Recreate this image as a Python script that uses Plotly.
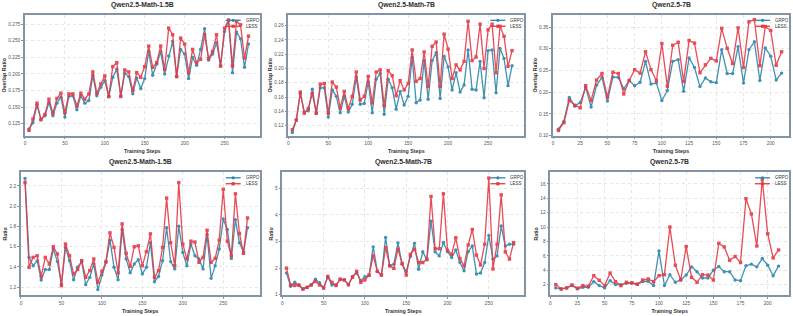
import plotly.graph_objects as go

# ---------------- data ----------------
steps_280 = list(range(5, 281, 5))
steps_210 = list(range(5, 211, 5))

# Top row: Overlap Ratio
p1_grpo = [0.117,0.1265,0.153,0.132,0.137,0.157,0.137,0.156,0.165,0.135,0.166,0.167,0.146,0.167,0.156,0.160,0.198,0.167,0.180,0.190,
           0.166,0.195,0.207,0.167,0.201,0.196,0.170,0.194,0.178,0.193,0.234,0.198,0.215,0.233,0.200,0.227,0.249,0.196,0.237,0.230,
           0.193,0.225,0.213,0.237,0.268,0.221,0.230,0.247,0.212,0.264,0.281,0.202,0.263,0.253,0.210,0.245]
p1_less = [0.115,0.132,0.156,0.131,0.139,0.162,0.141,0.163,0.171,0.142,0.170,0.170,0.152,0.171,0.162,0.170,0.203,0.171,0.185,0.197,
           0.166,0.211,0.217,0.166,0.206,0.203,0.175,0.202,0.195,0.211,0.242,0.210,0.217,0.242,0.207,0.269,0.259,0.196,0.254,0.245,
           0.202,0.237,0.217,0.222,0.259,0.223,0.234,0.259,0.212,0.269,0.281,0.212,0.279,0.274,0.224,0.257]

p2_grpo = [0.1105,0.128,0.165,0.139,0.141,0.171,0.1375,0.173,0.173,0.132,0.170,0.161,0.138,0.161,0.139,0.150,0.188,0.150,0.151,0.181,
           0.138,0.185,0.193,0.136,0.185,0.173,0.143,0.168,0.149,0.161,0.215,0.152,0.156,0.211,0.157,0.211,0.222,0.158,0.217,0.202,
           0.170,0.194,0.167,0.177,0.226,0.171,0.170,0.210,0.159,0.225,0.226,0.166,0.228,0.214,0.176,0.204]
p2_less = [0.1145,0.128,0.167,0.1375,0.144,0.165,0.1375,0.178,0.179,0.1375,0.181,0.174,0.145,0.168,0.144,0.161,0.195,0.156,0.161,0.189,
           0.152,0.195,0.198,0.148,0.197,0.190,0.162,0.183,0.170,0.179,0.226,0.182,0.186,0.223,0.175,0.231,0.237,0.175,0.248,0.227,
           0.186,0.205,0.198,0.210,0.266,0.211,0.216,0.262,0.200,0.254,0.262,0.194,0.259,0.245,0.203,0.225]

p3_grpo = [0.115,0.133,0.188,0.168,0.176,0.211,0.166,0.216,0.234,0.180,0.235,0.234,0.208,0.227,0.215,0.223,0.271,0.219,0.221,0.181,
           0.204,0.271,0.275,0.202,0.279,0.257,0.213,0.233,0.224,0.222,0.298,0.243,0.243,0.305,0.221,0.298,0.316,0.227,0.302,0.283,
           0.228,0.244]
p3_less = [0.112,0.130,0.181,0.170,0.164,0.215,0.181,0.228,0.243,0.189,0.246,0.243,0.196,0.227,0.252,0.244,0.293,0.252,0.227,0.312,
           0.214,0.308,0.315,0.225,0.319,0.313,0.245,0.263,0.278,0.272,0.347,0.301,0.266,0.348,0.257,0.362,0.367,0.261,0.351,0.342,
           0.262,0.293]

# Bottom row: Ratio
p4_grpo = [2.275,1.495,1.413,1.462,1.272,1.375,1.375,1.577,1.453,1.233,1.593,1.462,1.273,1.397,1.453,1.226,1.298,1.430,1.177,1.322,
           1.446,1.665,1.397,1.273,1.770,1.479,1.342,1.430,1.472,1.332,1.397,1.639,1.255,1.307,1.462,1.787,1.453,1.381,1.803,1.544,
           1.413,1.626,1.511,1.479,1.381,1.720,1.288,1.413,1.577,1.873,1.770,1.485,1.867,1.639,1.547,1.787]
p4_less = [2.233,1.397,1.495,1.511,1.307,1.495,1.430,1.600,1.528,1.216,1.626,1.511,1.332,1.375,1.462,1.298,1.365,1.479,1.249,1.358,
           1.453,1.737,1.593,1.342,1.825,1.535,1.407,1.600,1.609,1.413,1.551,1.727,1.298,1.365,1.593,2.080,1.639,1.413,2.233,1.626,
           1.479,1.655,1.646,1.446,1.495,1.763,1.446,1.485,1.665,2.167,1.655,1.511,2.122,1.731,1.535,1.884]

p5_grpo = [1.82,1.32,1.47,1.35,1.22,1.28,1.37,1.59,1.45,1.28,1.66,1.37,1.37,1.57,1.56,1.38,1.69,1.82,1.53,1.68,
           1.72,2.80,1.88,1.74,3.15,2.09,2.15,2.95,2.15,1.87,2.44,2.93,1.96,2.62,2.31,3.76,2.61,2.46,2.96,2.62,
           2.40,2.68,2.21,1.90,2.62,2.83,1.78,1.82,2.21,3.23,2.34,2.46,3.58,2.83,2.90,2.90]
p5_less = [2.00,1.37,1.35,1.37,1.22,1.28,1.37,1.50,1.37,1.25,1.69,1.47,1.35,1.59,1.56,1.38,1.66,1.88,1.47,1.56,
           1.74,2.46,1.88,1.74,2.77,2.09,1.99,2.71,2.18,1.74,2.52,2.71,2.21,2.21,2.34,4.69,2.73,2.73,4.79,2.67,
           2.52,3.14,2.36,2.09,2.87,3.45,2.49,2.12,2.90,5.38,1.97,2.90,4.75,2.61,2.34,2.96]

p6_grpo = [1.54,1.40,1.54,1.86,1.40,1.63,1.63,2.41,1.86,1.54,2.55,2.00,2.00,2.18,2.23,2.05,2.41,2.46,1.86,6.68,
           1.86,3.38,2.32,2.69,3.33,4.47,3.79,2.92,2.92,4.00,4.52,3.79,3.79,2.64,2.55,4.61,4.84,4.47,5.62,4.70,
           3.24,4.57]
p6_less = [2.00,1.40,1.54,1.95,1.50,1.86,1.77,3.24,2.60,1.86,3.60,2.41,1.86,2.32,2.23,2.05,2.64,2.78,2.41,3.24,
           3.38,10.0,4.70,2.64,7.28,3.01,2.32,3.38,3.33,2.64,7.73,7.23,5.39,5.90,5.07,13.93,11.82,7.37,16.6,9.06,
           5.71,6.81]

titles = ["Qwen2.5-Math-1.5B", "Qwen2.5-Math-7B", "Qwen2.5-7B",
          "Qwen2.5-Math-1.5B", "Qwen2.5-Math-7B", "Qwen2.5-7B"]
y_titles = ["Overlap Ratio"] * 3 + ["Ratio"] * 3
x_title = "Training Steps"
series_names = ["GRPO", "LESS"]

# ---------------- style / layout ----------------
W, H = 793, 316
BLUE = "#2E86AB"
RED = "#E63946"
COLORS = [BLUE, RED]
SYMBOLS = ["circle", "square"]
FRAME = "#8594a4"
FONT = "Liberation Sans"

panels = [
    dict(x=steps_280, g=p1_grpo, l=p1_less, px=(24, 259), py=(15, 137), xr=[0, 294], yr=[0.107, 0.289],
         xd=50, y0=0.125, yd=0.025, yf=".3f"),
    dict(x=steps_280, g=p2_grpo, l=p2_less, px=(287.7, 524), py=(15, 137), xr=[0, 295.4], yr=[0.106, 0.275],
         xd=50, y0=0.12, yd=0.02, yf=".2f"),
    dict(x=steps_210, g=p3_grpo, l=p3_less, px=(552.7, 789), py=(15, 137), xr=[0, 216.8], yr=[0.10, 0.378],
         xd=25, y0=0.10, yd=0.05, yf=".2f"),
    dict(x=steps_280, g=p4_grpo, l=p4_less, px=(20, 259), py=(174, 298.3), xr=[0, 295], yr=[1.119, 2.334],
         xd=50, y0=1.2, yd=0.2, yf=".1f"),
    dict(x=steps_280, g=p5_grpo, l=p5_less, px=(281.7, 524), py=(174, 298.3), xr=[0, 293], yr=[0.975, 5.595],
         xd=50, y0=1, yd=1, yf="d"),
    dict(x=steps_210, g=p6_grpo, l=p6_less, px=(550, 789), py=(174, 298.3), xr=[0, 219.6], yr=[0.49, 17.6],
         xd=25, y0=2, yd=2, yf="d"),
]

fig = go.Figure()
layout = dict(width=W, height=H, margin=dict(l=0, r=0, t=0, b=0),
              paper_bgcolor="white", plot_bgcolor="white", showlegend=False,
              font=dict(family=FONT, color="#333333"), annotations=[], shapes=[])


def px2x(v):
    return v / W


def px2y(v):
    return 1 - v / H


for i, p in enumerate(panels):
    k = "" if i == 0 else str(i + 1)
    xa, ya = "x" + k, "y" + k
    xdom = [p["px"][0] / W, p["px"][1] / W]
    ydom = [1 - p["py"][1] / H, 1 - p["py"][0] / H]
    for j, vals in enumerate([p["g"], p["l"]]):
        fig.add_trace(go.Scatter(x=p["x"], y=vals, mode="lines+markers", name=series_names[j],
                                 line=dict(color=COLORS[j], width=1.3),
                                 marker=dict(symbol=SYMBOLS[j], size=3.4, color=COLORS[j]),
                                 xaxis=xa, yaxis=ya, opacity=0.9))
    common = dict(showline=True, linecolor=FRAME, linewidth=1.5, mirror=True,
                  showgrid=True, gridcolor="#e6e6e6", griddash="dot", gridwidth=0.8,
                  zeroline=False, ticks="outside", ticklen=2, tickwidth=0.8, tickcolor=FRAME,
                  tickfont=dict(size=4.8, color="#555555", family=FONT))
    layout["xaxis" + k] = dict(domain=xdom, range=p["xr"], anchor=ya, dtick=p["xd"], tick0=0,
                               title=dict(text="<b>" + x_title + "</b>", font=dict(size=5.3, color="#333333"), standoff=4),
                               **common)
    layout["yaxis" + k] = dict(domain=ydom, range=p["yr"], anchor=xa, dtick=p["yd"], tick0=p["y0"],
                               tickformat=p["yf"],
                               title=dict(text="<b>" + y_titles[i] + "</b>", font=dict(size=5.3, color="#333333"), standoff=1.5),
                               **common)
    layout["annotations"].append(dict(text="<b>" + titles[i] + "</b>", x=(xdom[0] + xdom[1]) / 2,
                                      y=1 - (p["py"][0] - 10) / H, xref="paper", yref="paper",
                                      showarrow=False, font=dict(size=6.8, color="#2c2c2c"),
                                      xanchor="center", yanchor="middle"))
    # compact legend (matplotlib-like) in the top-right corner of each panel
    R, T = p["px"][1], p["py"][0]
    for j in range(2):
        yy = T + 5.5 + 6 * j
        layout["shapes"].append(dict(type="line", xref="paper", yref="paper",
                                     x0=px2x(R - 34), x1=px2x(R - 19), y0=px2y(yy), y1=px2y(yy),
                                     line=dict(color=COLORS[j], width=1.3)))
        mx, r = R - 26.5, 1.6
        layout["shapes"].append(dict(type="circle" if j == 0 else "rect", xref="paper", yref="paper",
                                     x0=px2x(mx - r), x1=px2x(mx + r), y0=px2y(yy + r), y1=px2y(yy - r),
                                     fillcolor=COLORS[j], line=dict(width=0)))
        layout["annotations"].append(dict(text=series_names[j], x=px2x(R - 16), y=px2y(yy),
                                          xref="paper", yref="paper", showarrow=False,
                                          xanchor="left", yanchor="middle",
                                          font=dict(size=4.5, color="#333333")))

fig.update_layout(**layout)
fig.write_html("out.html", config={"displayModeBar": False},
               post_script="document.body.style.margin='0';document.body.style.overflow='hidden';")
